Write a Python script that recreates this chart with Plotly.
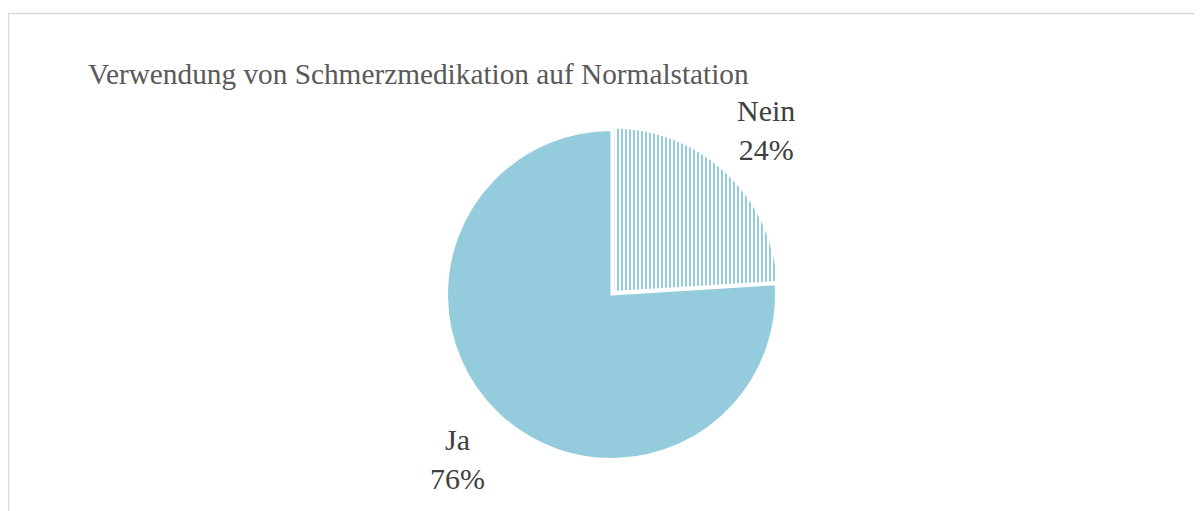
import math
import plotly.graph_objects as go

labels = ["Nein", "Ja"]
values = [24, 76]
patterns = ["|", ""]
title_text = "Verwendung von Schmerzmedikation auf Normalstation"

W, H = 1202, 511
OFF = 8  # page body margin
cx, cy, r0 = 611.5 - OFF, 294.5 - OFF, 164.5
r = r0 * 1.02
label_dist = 225

fig = go.Figure(go.Pie(
    labels=labels,
    values=values,
    sort=False,
    direction="clockwise",
    rotation=0,
    pull=[0.02, 0],
    marker=dict(
        colors=["#95CCDD", "#95CCDD"],
        line=dict(color="white", width=2),
        pattern=dict(shape=patterns, fgcolor="#95CCDD", bgcolor="white", size=4, solidity=0.5),
    ),
    textinfo="none",
    showlegend=False,
    hoverinfo="label+percent",
    domain=dict(x=[(cx - r) / W, (cx + r) / W], y=[(H - cy - r) / H, (H - cy + r) / H]),
))

# labels placed outside along each slice's mid-angle
total = sum(values)
annotations = []
cum = 0
for lab, v in zip(labels, values):
    mid = (cum + v / 2) / total * 2 * math.pi
    cum += v
    px = cx + label_dist * math.sin(mid)
    py = cy - label_dist * math.cos(mid)
    annotations.append(dict(
        text=f"{lab}<br>{round(v / total * 100)}%",
        x=px / W, y=1 - py / H, xref="paper", yref="paper",
        xanchor="center", yanchor="middle", showarrow=False,
        font=dict(family="Liberation Serif", size=30, color="#404040"),
    ))

fig.update_layout(
    width=W, height=H,
    margin=dict(l=0, r=0, t=0, b=0),
    paper_bgcolor="white",
    plot_bgcolor="white",
    title=dict(text=title_text, x=(88 - OFF) / W, xanchor="left", xref="paper",
               y=1 - (74 - OFF) / H, yanchor="middle", yref="paper",
               font=dict(family="Liberation Serif", size=29.3, color="#595959")),
    annotations=annotations,
    shapes=[dict(type="rect", xref="paper", yref="paper",
                 x0=(8.5 - OFF) / W, y0=-0.05, x1=1.05, y1=1 - (13.5 - OFF) / H,
                 line=dict(color="#D9D9D9", width=1.5), fillcolor="rgba(0,0,0,0)", layer="below")],
)

fig.write_html("out.html")
